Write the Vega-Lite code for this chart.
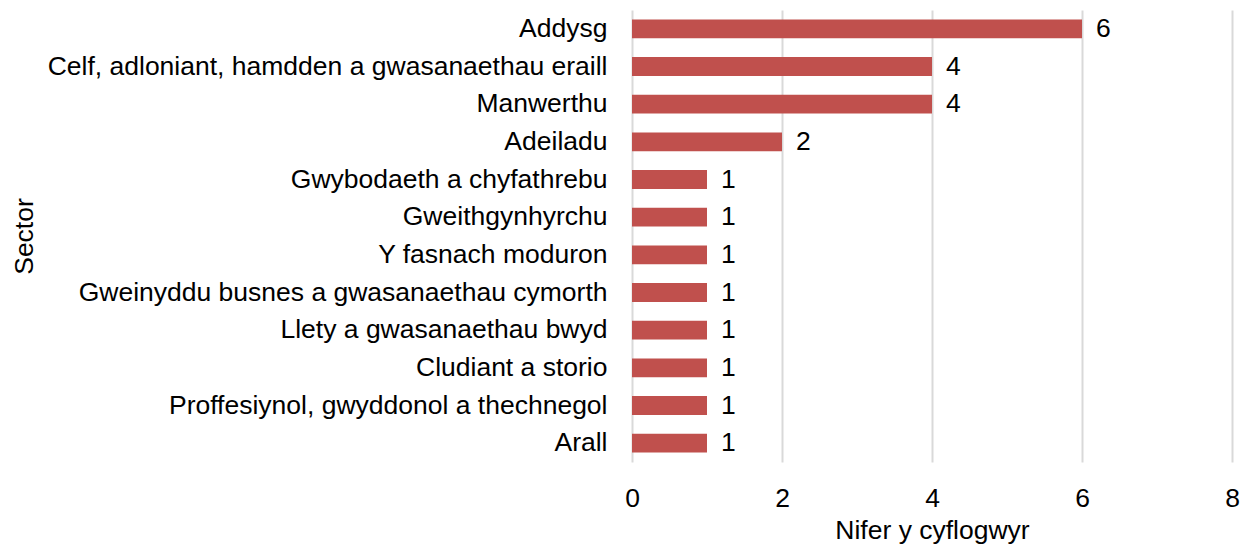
{
  "$schema": "https://vega.github.io/schema/vega-lite/v6.json",
  "width": 600,
  "height": 452,
  "padding": {"left": 11, "top": 10, "right": 5, "bottom": 0},
  "background": "white",
  "config": {
    "font": "Liberation Sans",
    "view": {"stroke": null}
  },
  "data": {
    "values": [
      {"sector": "Addysg", "count": 6},
      {"sector": "Celf, adloniant, hamdden a gwasanaethau eraill", "count": 4},
      {"sector": "Manwerthu", "count": 4},
      {"sector": "Adeiladu", "count": 2},
      {"sector": "Gwybodaeth a chyfathrebu", "count": 1},
      {"sector": "Gweithgynhyrchu", "count": 1},
      {"sector": "Y fasnach moduron", "count": 1},
      {"sector": "Gweinyddu busnes a gwasanaethau cymorth", "count": 1},
      {"sector": "Llety a gwasanaethau bwyd", "count": 1},
      {"sector": "Cludiant a storio", "count": 1},
      {"sector": "Proffesiynol, gwyddonol a thechnegol", "count": 1},
      {"sector": "Arall", "count": 1}
    ]
  },
  "encoding": {
    "y": {
      "field": "sector",
      "type": "nominal",
      "sort": null,
      "scale": {"paddingInner": 0.5, "paddingOuter": 0.25},
      "axis": {
        "title": "Sector",
        "titleFontSize": 26.5,
        "titleFontWeight": "normal",
        "titleColor": "#000000",
        "titleX": -594,
        "titleAngle": -90,
        "titleBaseline": "bottom",
        "labelFontSize": 26.5,
        "labelColor": "#000000",
        "labelPadding": 25,
        "labelLimit": 1000,
        "ticks": false,
        "tickSize": 0,
        "domain": false,
        "grid": false
      }
    },
    "x": {
      "field": "count",
      "type": "quantitative",
      "scale": {"domain": [0, 8], "nice": false},
      "axis": {
        "title": "Nifer y cyflogwyr",
        "titleFontSize": 26.5,
        "titleFontWeight": "normal",
        "titleColor": "#000000",
        "titlePadding": 6,
        "labelFontSize": 26.5,
        "labelColor": "#000000",
        "labelPadding": 23,
        "labelFlush": false,
        "values": [0, 2, 4, 6, 8],
        "ticks": false,
        "tickSize": 0,
        "domain": false,
        "grid": true,
        "gridColor": "#d9d9d9",
        "gridWidth": 2
      }
    }
  },
  "layer": [
    {"mark": {"type": "bar", "color": "#c0504d"}},
    {
      "mark": {"type": "text", "align": "left", "baseline": "middle", "dx": 14, "fontSize": 26.5, "color": "#000000"},
      "encoding": {"text": {"field": "count", "type": "quantitative"}}
    }
  ]
}
